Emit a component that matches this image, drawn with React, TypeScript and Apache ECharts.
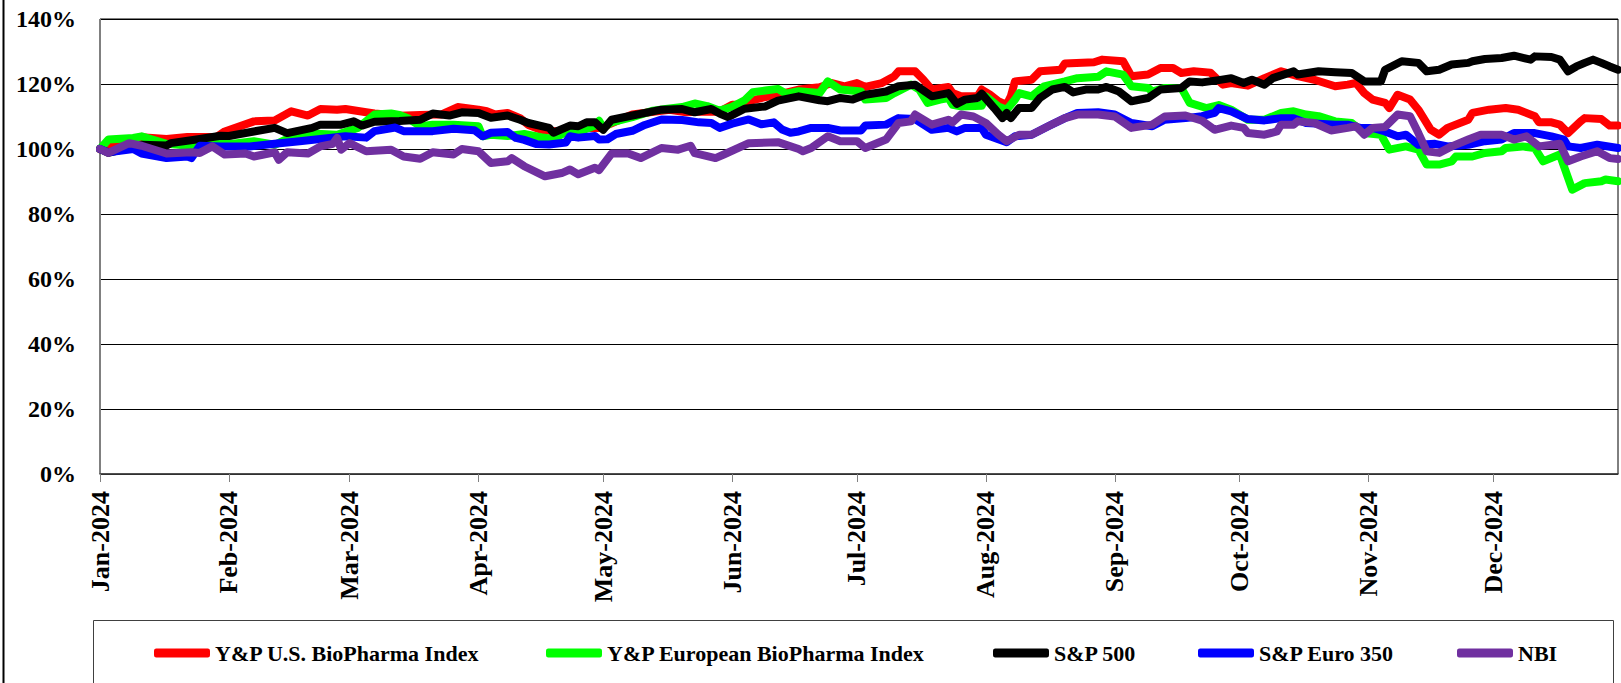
import React, { useEffect, useRef } from "react";
import * as echarts from "echarts";

// x = day of 2024 counted from 1 January (0 = Jan 1, 365 = Dec 31)
const monthLabels = ["Jan-2024", "Feb-2024", "Mar-2024", "Apr-2024", "May-2024", "Jun-2024", "Jul-2024", "Aug-2024", "Sep-2024", "Oct-2024", "Nov-2024", "Dec-2024"];
const monthStartDays = [0, 31, 60, 91, 121, 152, 182, 213, 244, 274, 305, 335];
const lastDay = 365;

const yTicks = { min: 0, max: 140, step: 20 };

const seriesNames = [
  "Y&P U.S. BioPharma Index",
  "Y&P European BioPharma Index",
  "S&P 500",
  "S&P Euro 350",
  "NBI",
];
const seriesColors = ["#FF0000", "#00FF00", "#000000", "#0000FF", "#7030A0"];

const usBioPharma = [[0,100],[5,102.4],[10,103.6],[16,103.1],[21,103.7],[28,103.7],[30,105.4],[37,108.5],[42,108.8],[46,111.6],[50,110.3],[53,112.3],[57,112.1],[59,112.3],[64,111.3],[66,110.9],[72,110.2],[77,110.5],[82,110.6],[86,112.9],[91,112.1],[93,111.6],[95,110.6],[98,111.1],[101,109.5],[103,107.4],[106,105.9],[110,105.4],[113,106.5],[117,106.5],[121,106.5],[122,107.4],[128,110.6],[134,111.6],[137,112.1],[141,111.3],[145,111.5],[149,111.5],[152,113.6],[155,113.6],[157,115],[160,116],[164,117],[168,118.3],[173,119],[176,120.3],[179,119.3],[182,120.3],[184,119.1],[188,120.3],[191,122.4],[192,123.9],[196,123.9],[198,121.3],[200,118.3],[204,119.1],[205,117.2],[207,116.2],[211,116.2],[212,118.3],[214,116.7],[216,114.7],[218,113.6],[219,116.2],[220,120.8],[224,121.3],[226,123.9],[231,124.4],[232,126.3],[239,126.7],[241,127.5],[246,127],[248,122.4],[252,122.9],[255,124.9],[258,124.9],[260,123.4],[263,123.9],[267,123.5],[270,119.8],[272,120.3],[276,119.5],[280,121.8],[284,123.9],[288,122.4],[292,121.3],[297,119.3],[300,119.8],[302,120.3],[304,117.2],[306,115.2],[309,114.2],[310,112.6],[312,116.7],[315,115.2],[317,112.1],[320,105.9],[322,104.4],[324,106.5],[329,109],[330,111.1],[334,112.1],[338,112.6],[341,112.1],[345,110.1],[346,108.2],[349,108.2],[351,107.5],[353,104.9],[356,108.5],[357,109.5],[361,109.2],[363,107.2],[365,107.2]];

const euBioPharma = [[0,100],[2,102.9],[8,103.4],[10,103.9],[16,101.6],[21,101.1],[28,102.1],[32,101.6],[37,102.4],[42,101.3],[45,103.1],[52,104.7],[57,104.4],[62,106.5],[66,110.6],[70,110.9],[72,110.5],[74,109.5],[77,107],[80,107.5],[85,107.5],[91,107],[92,103.9],[94,104.4],[98,104],[102,104.6],[106,103.6],[109,103.1],[112,105.2],[115,105.2],[119,107.2],[120,108.7],[121,106.6],[123,108.2],[128,109.8],[133,111.8],[136,112.3],[140,112.9],[143,114],[146,113.2],[149,111.8],[152,113],[155,115],[157,117.5],[160,118],[163,118.5],[165,117],[168,117.8],[173,117.2],[175,120.8],[178,118.3],[183,117.7],[184,115.2],[189,115.7],[191,117.2],[195,119.8],[197,118.3],[199,114.2],[202,115.2],[204,115.7],[205,113.6],[207,113.1],[212,113.3],[213,116.2],[216,113.1],[218,112.1],[220,115.2],[221,117.2],[224,116.2],[227,119.3],[232,120.8],[235,121.8],[240,122.2],[242,123.9],[246,122.9],[248,119.3],[252,118.8],[253,117.7],[256,118.8],[260,118.8],[262,114.2],[266,112.6],[269,113.5],[272,112.1],[276,109],[280,109],[284,111.1],[287,111.6],[290,110.6],[293,110.1],[297,108.5],[301,108],[304,104.9],[308,104.4],[310,99.8],[314,100.8],[317,99.8],[319,95.2],[322,95.2],[325,96.2],[326,97.7],[330,97.7],[333,98.8],[337,99.3],[338,100.3],[342,100.8],[345,100.3],[347,96.2],[351,98.3],[354,87.5],[357,89.5],[361,90.1],[362,90.6],[365,90.1]];

const sp500 = [[0,100],[2,98.8],[10,101.3],[16,101.1],[17,101.8],[24,103.1],[29,104.1],[31,104],[37,105.4],[42,106.5],[45,104.9],[51,106.5],[53,107.5],[58,107.5],[61,108.5],[63,107.2],[66,108.4],[72,108.6],[77,109],[80,110.9],[84,110.3],[87,111.3],[91,111.1],[94,109.6],[98,110.3],[101,109],[103,108],[108,106.5],[109,105],[113,107.2],[115,107],[117,108.2],[119,108.2],[121,105.9],[123,109],[128,110.3],[135,112.1],[140,112.3],[143,111.3],[147,112.3],[149,110.9],[151,109.8],[155,112.4],[160,113.1],[163,114.9],[168,116.2],[173,115],[175,114.7],[178,115.7],[181,115.2],[184,116.7],[189,117.7],[192,119.3],[196,119.8],[200,116.2],[204,117.2],[206,113.9],[208,115.2],[211,115.7],[212,117],[215,112.6],[217,109.5],[218,111.1],[219,109.5],[221,112.6],[224,112.6],[226,115.7],[229,118.3],[232,119.1],[234,117.4],[237,118.3],[240,118.3],[242,119.1],[245,117.7],[248,114.7],[252,115.7],[255,118.3],[260,118.8],[262,120.8],[265,120.5],[269,121.2],[272,121.8],[275,120.3],[277,121.3],[280,119.8],[282,121.8],[287,123.9],[288,122.9],[293,123.9],[297,123.6],[301,123.4],[304,120.8],[308,120.8],[309,124.4],[313,127],[317,126.5],[319,123.9],[322,124.4],[325,126],[329,126.5],[330,127],[333,127.7],[337,128],[340,128.7],[344,127.5],[345,128.5],[349,128.3],[351,127.5],[353,123.9],[355,125.4],[357,126.5],[359,127.5],[361,126.5],[363,125.4],[365,124.4]];

const spEuro350 = [[0,100],[2,99],[8,100],[10,98.6],[16,97.2],[21,97.7],[22,97.2],[24,101],[29,100.8],[36,100.8],[42,101.6],[48,102.4],[53,103.1],[59,103.9],[64,103.5],[66,105.5],[71,106.6],[73,105.5],[77,105.5],[80,105.5],[85,106.2],[90,105.8],[92,103.9],[94,105],[98,105.2],[100,103.4],[102,102.8],[105,101.5],[108,101.4],[112,102],[113,103.9],[115,103.5],[119,104],[120,102.9],[122,103],[124,104.6],[128,105.6],[131,107.4],[135,109.1],[140,108.9],[144,108.2],[147,108],[149,106.5],[152,107.8],[156,109.1],[159,107.6],[162,108.2],[164,106],[166,105],[168,105.4],[171,106.5],[175,106.5],[178,105.7],[183,105.7],[184,107.2],[189,107.5],[192,109.5],[196,109.2],[200,105.9],[204,106.5],[206,105.4],[208,106.5],[212,106.5],[213,104.4],[218,102.1],[220,103.9],[224,104.4],[228,107],[232,109.5],[235,111.1],[240,111.3],[244,110.6],[248,108],[253,107],[256,109],[261,109.5],[265,110.1],[268,111.1],[269,112.6],[272,111.6],[276,109.2],[280,108.8],[284,109.5],[287,109.5],[290,108],[297,107.5],[300,107.5],[303,106.5],[306,106.5],[309,105.4],[312,103.9],[314,104.4],[317,101.3],[321,101.6],[324,100.8],[329,101.3],[333,102.4],[337,102.9],[340,104.9],[345,104.9],[349,103.9],[352,102.9],[353,100.8],[356,100.3],[360,101.3],[365,100.3]];

const nbi = [[0,100],[2,98.8],[7,101.8],[10,101],[16,98.6],[22,99],[24,98.8],[27,100.8],[30,98.3],[35,98.6],[37,97.7],[42,99],[43,96.7],[45,99],[50,98.6],[53,100.8],[56,101.6],[57,103.4],[58,99.8],[60,101.8],[64,99.3],[70,99.8],[73,97.7],[77,97],[80,99],[85,98.3],[87,100],[91,99.3],[94,95.7],[98,96.2],[99,97.2],[102,94.7],[107,91.6],[111,92.6],[113,93.7],[115,92.2],[119,94.2],[120,93.5],[123,98.6],[127,98.6],[130,97.2],[135,100.3],[139,99.8],[142,101],[143,98.7],[148,97.2],[150,98.3],[156,101.8],[163,102.1],[168,100],[169,99.3],[171,100.3],[175,103.9],[178,102.4],[182,102.4],[184,100.3],[189,102.9],[192,108],[195,108.5],[196,110.6],[200,107.5],[204,109],[205,108.2],[207,110.6],[210,110],[213,108],[216,104.4],[218,102.4],[221,104.4],[224,104.4],[228,107],[232,109.5],[235,110.6],[240,110.6],[244,110],[248,106.5],[253,107.5],[256,110],[261,110.3],[265,108.7],[268,105.9],[272,107.2],[275,106.5],[276,104.9],[280,104.4],[283,105.4],[284,107.5],[287,107.5],[288,108.5],[292,108],[296,105.7],[300,106.5],[302,107],[304,104.4],[306,106.5],[309,106.8],[312,110.6],[315,110.1],[317,104.9],[319,99.3],[322,98.8],[325,100.8],[329,102.9],[332,104.4],[337,104.4],[340,102.9],[343,103.9],[346,100.8],[351,101.6],[353,96.2],[356,97.7],[360,99.3],[363,97.2],[365,96.9]];

const seriesData = [usBioPharma, euBioPharma, sp500, spEuro350, nbi];

const FONT = '"Liberation Serif", "Times New Roman", serif';

export default function App() {
  const ref = useRef<HTMLDivElement>(null);

  useEffect(() => {
    if (!ref.current) return;
    const chart = echarts.init(ref.current, null, { renderer: "svg" });

    const categories: string[] = [];
    for (let d = 0; d <= lastDay; d++) categories.push(String(d));

    const isMonthStart = (index: number) => monthStartDays.indexOf(index) >= 0;

    const legendLefts = [154, 546, 993, 1198, 1457];

    chart.setOption({
      animation: false,
      backgroundColor: "#ffffff",
      grid: {
        left: 100,
        top: 19,
        right: 3,
        bottom: 209,
        show: true,
        borderColor: "#000000",
        borderWidth: 1,
        backgroundColor: "transparent",
      },
      xAxis: {
        type: "category",
        data: categories,
        boundaryGap: false,
        axisLine: { show: true, lineStyle: { color: "#404040", width: 1.5 } },
        axisTick: {
          show: true,
          interval: (index: number) => isMonthStart(index),
          length: 8,
          lineStyle: { color: "#808080", width: 1 },
        },
        axisLabel: {
          interval: (index: number) => isMonthStart(index),
          rotate: 90,
          margin: 17,
          fontFamily: FONT,
          fontWeight: "bold",
          fontSize: 26,
          color: "#000000",
          formatter: (value: string) => {
            const i = monthStartDays.indexOf(Number(value));
            return i >= 0 ? monthLabels[i] : "";
          },
        },
        splitLine: { show: false },
      },
      yAxis: {
        type: "value",
        min: yTicks.min,
        max: yTicks.max,
        interval: yTicks.step,
        axisLine: { show: true, lineStyle: { color: "#808080", width: 1 } },
        axisTick: { show: false },
        axisLabel: {
          margin: 24,
          fontFamily: FONT,
          fontWeight: "bold",
          fontSize: 24,
          color: "#000000",
          formatter: "{value}%",
        },
        splitLine: { show: true, lineStyle: { color: "#000000", width: 1 } },
      },
      legend: seriesNames.map((name, i) => ({
        data: [name],
        left: legendLefts[i],
        top: 642,
        padding: 0,
        itemGap: 0,
        itemWidth: 56,
        itemHeight: 9,
        icon: "roundRect",
        selectedMode: false,
        textStyle: {
          fontFamily: FONT,
          fontWeight: "bold",
          fontSize: 22,
          lineHeight: 22,
          color: "#000000",
        },
      })),
      graphic: [
        {
          type: "rect",
          z: 0,
          shape: { x: 2.5, y: 0, width: 2, height: 683 },
          style: { fill: "#000000" },
        },
        {
          type: "rect",
          z: 0,
          shape: { x: 93.5, y: 620.5, width: 1520, height: 100 },
          style: { fill: "none", stroke: "#404040", lineWidth: 1 },
        },
      ],
      series: seriesNames.map((name, i) => ({
        name,
        type: "line",
        data: seriesData[i],
        color: seriesColors[i],
        itemStyle: { color: seriesColors[i] },
        symbol: "none",
        showSymbol: false,
        lineStyle: { color: seriesColors[i], width: 8, cap: "round", join: "round" },
        z: 2 + i,
      })),
    });

    return () => {
      chart.dispose();
    };
  }, []);

  return (
    <div
      ref={ref}
      style={{ position: "absolute", left: 0, top: 0, width: 1621, height: 683 }}
    />
  );
}
